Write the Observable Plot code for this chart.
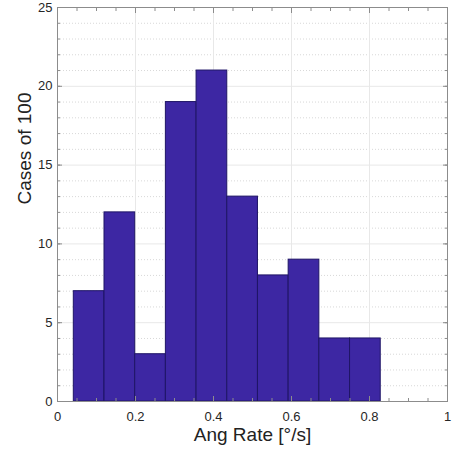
<!DOCTYPE html>
<html><head><meta charset="utf-8">
<script src="https://cdn.jsdelivr.net/npm/d3@7"></script>
<script src="https://cdn.jsdelivr.net/npm/@observablehq/plot@0.6"></script>
<style>body{margin:0;background:#fff;} svg{font-family:Arial,"Liberation Sans",sans-serif;overflow:visible;}</style>
</head><body><div id="chart"></div>
<script>
const binStart = 0.0418;
const binWidth = 0.0787;
const counts = [7, 12, 3, 19, 21, 13, 8, 9, 4, 4];
const xTicks = [0, 0.2, 0.4, 0.6, 0.8, 1];
const yTicks = [0, 5, 10, 15, 20, 25];
const xMinor = d3.range(0, 21).map(i => i / 20);
const yMinor = d3.range(0, 26, 1);

const bins = counts.map((c, i) => ({x1: binStart + i * binWidth, x2: binStart + (i + 1) * binWidth, y: c}));
const fmt = d => String(d);

const chart = Plot.plot({
  width: 455, height: 452,
  marginLeft: 57, marginRight: 8, marginTop: 7, marginBottom: 51,
  x: {domain: [0, 1]},
  y: {domain: [0, 25]},
  style: {fontFamily: "Arial, 'Liberation Sans', sans-serif", fontSize: "13px", color: "#262626", overflow: "visible"},
  marks: [
    Plot.ruleY(yMinor.filter(v => v % 5 !== 0), {stroke: "#d8d8d8", strokeDasharray: "1,2", strokeWidth: 1}),
    Plot.ruleY(yTicks, {stroke: "#e8e8e8", strokeWidth: 1}),
    Plot.ruleX(xTicks, {stroke: "#e8e8e8", strokeWidth: 1}),
    Plot.rectY(bins, {x1: "x1", x2: "x2", y: "y", fill: "#3d27a3", stroke: "#1f1566", strokeWidth: 1}),
    Plot.frame({stroke: "#8c8c8c"}),
    Plot.axisX(xTicks, {anchor: "bottom", tickSize: 0, tickPadding: 10, fontSize: 13, fill: "#262626", tickFormat: fmt, label: null}),
    Plot.axisY(yTicks, {anchor: "left", tickSize: 0, tickPadding: 5, fontSize: 13, fill: "#262626", tickFormat: fmt, label: null}),
    Plot.axisX(xMinor, {anchor: "bottom", tickSize: -3, text: null, stroke: "#8c8c8c", label: null}),
    Plot.axisX(xMinor, {anchor: "top", tickSize: -3, text: null, stroke: "#8c8c8c", label: null}),
    Plot.axisY(yMinor, {anchor: "left", tickSize: -3, text: null, stroke: "#8c8c8c", label: null}),
    Plot.axisY(yMinor, {anchor: "right", tickSize: -3, text: null, stroke: "#8c8c8c", label: null}),
    Plot.axisX(xTicks, {anchor: "bottom", tickSize: -5, text: null, stroke: "#8c8c8c", label: null}),
    Plot.axisX(xTicks, {anchor: "top", tickSize: -5, text: null, stroke: "#8c8c8c", label: null}),
    Plot.axisY(yTicks, {anchor: "left", tickSize: -5, text: null, stroke: "#8c8c8c", label: null}),
    Plot.axisY(yTicks, {anchor: "right", tickSize: -5, text: null, stroke: "#8c8c8c", label: null}),
    Plot.text(["Ang Rate [°/s]"], {x: 0.5, frameAnchor: "bottom", dy: 39, fontSize: 19, fill: "#222"}),
    Plot.text(["Cases of 100"], {y: 12.5, frameAnchor: "left", dx: -33, rotate: -90, fontSize: 19, fill: "#222"})
  ]
});
document.getElementById("chart").appendChild(chart);
</script>
</body></html>
